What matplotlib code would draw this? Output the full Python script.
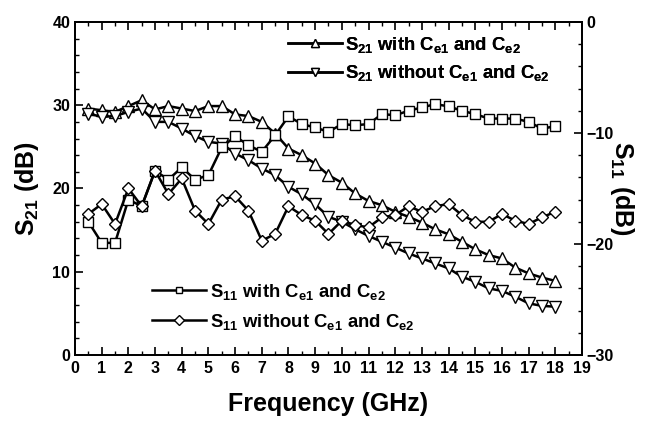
import matplotlib
matplotlib.use("Agg")
import matplotlib.pyplot as plt
from matplotlib.ticker import MultipleLocator

plt.rcParams['font.family'] = ['Liberation Sans', 'DejaVu Sans']
plt.rcParams['font.weight'] = 'bold'
plt.rcParams['mathtext.fontset'] = 'custom'
plt.rcParams['mathtext.rm'] = 'Liberation Sans:bold'
plt.rcParams['mathtext.bf'] = 'Liberation Sans:bold'
plt.rcParams['mathtext.it'] = 'Liberation Sans:bold'
plt.rcParams['mathtext.default'] = 'bf'

# frequency points (GHz)
freq = [0.5, 1.0, 1.5, 2.0, 2.5, 3.0, 3.5, 4.0, 4.5, 5.0, 5.5, 6.0,
        6.5, 7.0, 7.5, 8.0, 8.5, 9.0, 9.5, 10.0, 10.5, 11.0, 11.5, 12.0,
        12.5, 13.0, 13.5, 14.0, 14.5, 15.0, 15.5, 16.0, 16.5, 17.0, 17.5, 18.0]

# S21 (dB), left axis
s21_with = [29.6, 29.4, 29.2, 29.9, 30.6, 29.5, 29.9, 29.6, 29.3, 29.9, 29.9, 28.9,
            28.7, 28.0, 26.6, 24.8, 24.0, 23.0, 21.6, 20.7, 19.4, 18.5, 18.0, 17.2,
            16.6, 15.9, 15.1, 14.5, 13.6, 12.7, 12.0, 11.6, 10.5, 9.8, 9.3, 8.9]
s21_without = [29.0, 28.6, 28.7, 29.2, 29.6, 28.0, 28.0, 27.2, 26.3, 25.6, 25.4, 24.2,
               23.4, 22.4, 21.6, 20.2, 19.3, 18.1, 16.6, 16.0, 15.1, 14.3, 13.6, 12.9,
               12.2, 11.6, 11.0, 10.4, 9.4, 8.8, 8.0, 7.7, 7.0, 6.2, 5.9, 5.8]

# S11 (dB), right axis
s11_with = [-18.0, -19.9, -19.9, -16.0, -16.6, -13.4, -14.2, -13.1, -14.2, -13.8, -11.3, -10.3,
            -11.1, -11.7, -10.2, -8.5, -9.2, -9.5, -9.9, -9.2, -9.3, -9.2, -8.3, -8.4,
            -8.0, -7.7, -7.4, -7.6, -8.0, -8.3, -8.7, -8.7, -8.7, -9.0, -9.6, -9.4]
s11_without = [-17.3, -16.4, -18.2, -15.0, -16.6, -13.4, -15.5, -14.1, -17.0, -18.2, -16.0, -15.7,
               -17.0, -19.7, -19.1, -16.6, -17.4, -17.9, -19.1, -17.9, -18.3, -18.5, -17.6, -17.4,
               -16.6, -17.1, -16.6, -16.4, -17.4, -18.0, -18.0, -17.3, -17.9, -18.2, -17.6, -17.1]

fig = plt.figure(figsize=(6.45, 4.22), dpi=100)
ax = fig.add_axes([0.1163, 0.1588, 0.7860, 0.7891])
ax2 = ax.twinx()

mk = dict(color='black', linewidth=1.8, markerfacecolor='white',
          markeredgecolor='black', markeredgewidth=1.0)

l1, = ax.plot(freq, s21_with, marker='^', markersize=8, **mk)
l2, = ax.plot(freq, s21_without, marker='v', markersize=8, **mk)
l3, = ax2.plot(freq, s11_with, marker='s', markersize=7, **mk)
l4, = ax2.plot(freq, s11_without, marker='D', markersize=6.5, **mk)

ax.set_xlim(0, 19)
ax.set_ylim(0, 40)
ax2.set_ylim(-30, 0)

ax.xaxis.set_major_locator(MultipleLocator(1))
ax.xaxis.set_minor_locator(MultipleLocator(0.5))
ax.yaxis.set_major_locator(MultipleLocator(10))
ax.yaxis.set_minor_locator(MultipleLocator(2))
ax2.yaxis.set_major_locator(MultipleLocator(10))
ax2.yaxis.set_minor_locator(MultipleLocator(2))

ax.tick_params(axis='x', which='both', direction='in', top=True, labelsize=11.5, pad=4)
ax.tick_params(axis='y', which='both', direction='in', right=False, labelsize=11.5)
ax2.tick_params(axis='y', which='both', direction='in', labelsize=11.5)
for a in (ax, ax2):
    a.tick_params(which='major', length=6, width=1.2)
    a.tick_params(which='minor', length=3, width=1.0)
    for sp in a.spines.values():
        sp.set_linewidth(1.3)

ax.set_xlabel('Frequency (GHz)', fontsize=18, fontweight='bold', labelpad=12)
ax.set_ylabel(r'S$_{21}$ (dB)', fontsize=18, fontweight='bold', labelpad=8)
ax2.set_ylabel(r'S$_{11}$ (dB)', fontsize=18, fontweight='bold', rotation=270, labelpad=16)

leg1 = ax.legend([l1, l2],
                 [r'S$_{21}$ with C$_{e1}$ and C$_{e2}$', r'S$_{21}$ without C$_{e1}$ and C$_{e2}$'],
                 loc='upper left', bbox_to_anchor=(0.395, 1.0), frameon=False,
                 fontsize=13.3, handlelength=2.9, handletextpad=0.2, labelspacing=0.45,
                 borderaxespad=0.3)
for h in leg1.legend_handles:
    h.set_markersize(6)
ax.add_artist(leg1)
leg2 = ax2.legend([l3, l4],
                  [r'S$_{11}$ with C$_{e1}$ and C$_{e2}$', r'S$_{11}$ without C$_{e1}$ and C$_{e2}$'],
                  loc='lower left', bbox_to_anchor=(0.12, 0.02), frameon=False,
                  fontsize=13.3, handlelength=2.9, handletextpad=0.2, labelspacing=0.55,
                  borderaxespad=0.5)
for h in leg2.legend_handles:
    h.set_markersize(5)

fig.savefig('out.png', dpi=100)
